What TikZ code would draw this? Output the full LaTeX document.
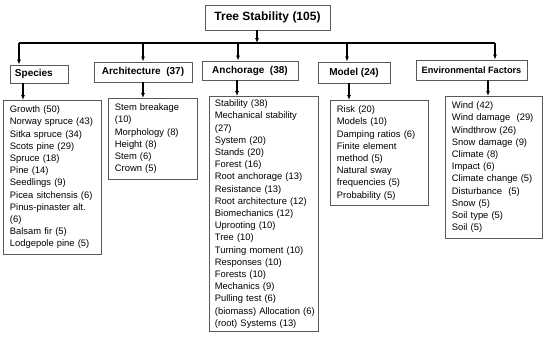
\documentclass[tikz,border=0pt]{standalone}
\usepackage{fontspec}
\setmainfont{Liberation Sans}
\usetikzlibrary{arrows.meta}
\begin{document}
\begin{tikzpicture}[x=1pt,y=-1pt,
  every node/.style={font=\fontsize{9.4}{12.2}\selectfont},
  box/.style={draw=black!65,line width=0.8pt,inner sep=0pt},
  head/.style={box,font=\fontsize{10}{12}\selectfont\bfseries},
  list/.style={box,anchor=north west,align=left,inner xsep=6.5pt,inner ysep=5.5pt},
  arr/.style={line width=1.1pt,-{Latex[length=5pt,width=4pt]}}]
  \useasboundingbox (0,0) rectangle (550,338);
  % root and bar
  \node[head,font=\fontsize{12}{14}\selectfont\bfseries,minimum width=125pt,minimum height=25pt] (tree) at (267.5,17.5) {Tree Stability (105)};
  \coordinate (bar) at (257,43);
  \coordinate (barL) at (19,43);
  \coordinate (barR) at (495,43);
  \draw[arr] (bar |- tree.south) -- (bar);
  \draw[line width=1.1pt] (barL) -- (barR);
  % categories
  \node[head,minimum width=58pt,minimum height=18pt,text width=48pt,align=left] (spc) at (39,74) {Species};
  \node[head,minimum width=98pt,minimum height=20pt] (arc) at (143,72) {Architecture\ \ (37)};
  \node[head,minimum width=96pt,minimum height=19pt] (anc) at (250,70.5) {Anchorage\ \ (38)};
  \node[head,minimum width=72pt,minimum height=21pt] (mod) at (354,72.5) {Model (24)};
  \node[head,font=\fontsize{9.2}{11}\selectfont\bfseries,minimum width=111pt,minimum height=20pt] (env) at (471.5,70) {Environmental Factors};
  % keyword lists
  \node[list,text width=85pt] (spc-l) at (3,100) {Growth (50)\\Norway spruce (43)\\Sitka spruce (34)\\Scots pine (29)\\Spruce (18)\\Pine (14)\\Seedlings (9)\\Picea sitchensis (6)\\Pinus-pinaster alt.\\(6)\\Balsam fir (5)\\Lodgepole pine (5)};
  \node[list,text width=76pt] (arc-l) at (108,98) {Stem breakage\\(10)\\Morphology (8)\\Height (8)\\Stem (6)\\Crown (5)};
  \node[list,text width=98pt,inner xsep=5.5pt,inner ysep=3.5pt] (anc-l) at (209,96) {Stability (38)\\Mechanical stability\\(27)\\System (20)\\Stands (20)\\Forest (16)\\Root anchorage (13)\\Resistance (13)\\Root architecture (12)\\Biomechanics (12)\\Uprooting (10)\\Tree (10)\\Turning moment (10)\\Responses (10)\\Forests (10)\\Mechanics (9)\\Pulling test (6)\\\mbox{(biomass) Allocation (6)}\\(root) Systems (13)};
  \node[list,text width=85pt] (mod-l) at (330,100) {Risk (20)\\Models (10)\\Damping ratios (6)\\Finite element\\method (5)\\Natural sway\\frequencies (5)\\Probability (5)};
  \node[list,text width=84pt] (env-l) at (445,96) {Wind (42)\\Wind damage\ \ (29)\\Windthrow (26)\\Snow damage (9)\\Climate (8)\\Impact (6)\\Climate change (5)\\Disturbance\ \ (5)\\Snow (5)\\Soil type (5)\\Soil (5)};
  % arrows
  \foreach \n/\x/\y in {spc/19/23, arc/143/143, anc/238/237, mod/347/349, env/495/488} {
    \coordinate (b-\n) at (\x,43);
    \coordinate (t-\n) at (\y,0);
    \draw[arr] (b-\n) -- (b-\n |- \n.north);
    \draw[arr] (t-\n |- \n.south) -- (t-\n |- \n-l.north);
  }
\end{tikzpicture}
\end{document}
